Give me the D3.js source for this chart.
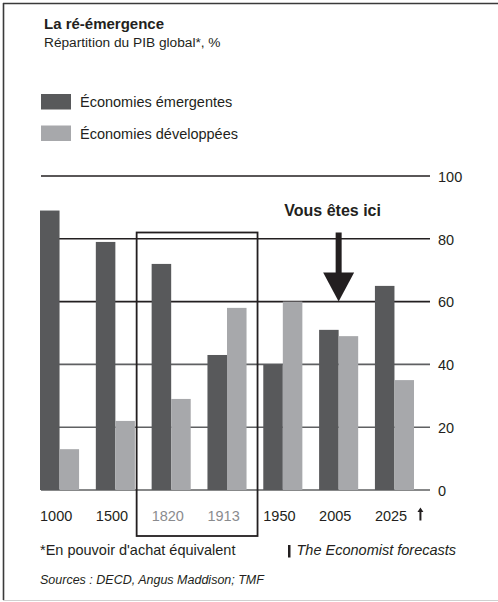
<!DOCTYPE html>
<html>
<head>
<meta charset="utf-8">
<script src="https://cdn.jsdelivr.net/npm/d3@7"></script>
<style>
  body { margin: 0; background: #fff; }
  svg text { font-family: "Liberation Sans", Arial, Helvetica, sans-serif; fill: #231f20; }
</style>
</head>
<body>
<div id="chart"></div>
<script>
const years = ["1000", "1500", "1820", "1913", "1950", "2005", "2025"];
const emergentes = [89, 79, 72, 43, 40, 51, 65];
const developpees = [13, 22, 29, 58, 60, 49, 35];
const yTicks = [0, 20, 40, 60, 80, 100];
const seriesNames = ["Économies émergentes", "Économies développées"];
const highlighted = ["1820", "1913"];

function main() {
  const width = 498;
  const height = 602;
  const darkGrey = "#58595b";
  const lightGrey = "#a7a8ab";
  const ink = "#231f20";

  const svg = d3
    .select("#chart")
    .append("svg")
    .attr("width", width)
    .attr("height", height);

  // frame
  svg.append("line").attr("x1", 3.5).attr("x2", 3.5).attr("y1", 3).attr("y2", 600)
    .attr("stroke", "#3a3a3a").attr("stroke-width", 1.6);
  svg.append("line").attr("x1", 3).attr("x2", 498).attr("y1", 3.5).attr("y2", 3.5)
    .attr("stroke", "#3a3a3a").attr("stroke-width", 1.6);
  svg.append("line").attr("x1", 3).attr("x2", 498).attr("y1", 600.5).attr("y2", 600.5)
    .attr("stroke", "#d0d0d0").attr("stroke-width", 1);

  // title
  svg.append("text").attr("x", 44).attr("y", 29)
    .style("font-weight", "bold").style("font-size", "15px")
    .text("La ré-émergence");
  svg.append("text").attr("x", 44).attr("y", 47)
    .style("font-size", "13.7px")
    .text("Répartition du PIB global*, %");

  // legend
  const color = d3.scaleOrdinal().domain(seriesNames).range([darkGrey, lightGrey]);
  const legend = svg.selectAll(".legend")
    .data(seriesNames)
    .enter()
    .append("g")
    .attr("class", "legend")
    .attr("transform", (d, i) => `translate(41, ${94 + i * 31.5})`);
  legend.append("rect")
    .attr("width", 30)
    .attr("height", 15.5)
    .attr("fill", (d) => color(d));
  legend.append("text")
    .attr("x", 39)
    .attr("y", 13)
    .style("font-size", "14.5px")
    .text((d) => d);

  // scales
  const x = d3.scaleBand().domain(years).range([40, 414]).paddingInner(0.3).paddingOuter(0);
  const xSub = d3.scaleBand().domain(["em", "dev"]).range([0, x.bandwidth()]);
  const y = d3.scaleLinear().domain([0, 100]).range([490, 176]);

  // gridlines
  svg.selectAll(".grid")
    .data(yTicks)
    .enter()
    .append("line")
    .attr("class", "grid")
    .attr("x1", 41)
    .attr("x2", 430)
    .attr("y1", (d) => y(d))
    .attr("y2", (d) => y(d))
    .attr("stroke", (d) => (d >= 60 ? ink : "#5f6062"))
    .attr("stroke-width", 1.6);

  // y axis labels on the right
  const yAxis = d3.axisRight(y).tickValues(yTicks).tickSize(0).tickPadding(0);
  const yg = svg.append("g").attr("transform", "translate(438,0)").call(yAxis);
  yg.select(".domain").remove();
  yg.selectAll("text")
    .style("font-size", "14.5px")
    .style("fill", ink)
    .attr("dy", "0.36em");

  // bars
  const rows = years.map((yr, i) => ({ year: yr, em: emergentes[i], dev: developpees[i] }));
  const groups = svg.selectAll(".grp")
    .data(rows)
    .enter()
    .append("g")
    .attr("class", "grp")
    .attr("transform", (d) => `translate(${x(d.year)},0)`);
  groups.selectAll("rect")
    .data((d) => [{ k: "em", v: d.em }, { k: "dev", v: d.dev }])
    .enter()
    .append("rect")
    .attr("x", (d) => xSub(d.k))
    .attr("width", xSub.bandwidth())
    .attr("y", (d) => y(d.v))
    .attr("height", (d) => y(0) - y(d.v))
    .attr("fill", (d) => (d.k === "em" ? darkGrey : lightGrey));

  // x axis labels (left aligned to each group)
  const xAxis = d3.axisBottom(x).tickSize(0).tickPadding(0);
  const xg = svg.append("g").attr("transform", "translate(0,510)").call(xAxis);
  xg.select(".domain").remove();
  xg.selectAll(".tick")
    .attr("transform", (d) => `translate(${x(d)},0)`);
  xg.selectAll("text")
    .attr("text-anchor", "start")
    .attr("y", 0)
    .attr("dy", "0.78em")
    .style("font-size", "14.5px")
    .style("fill", (d) => (highlighted.includes(d) ? "#8a8b8e" : ink));

  // forecast marker after 2025
  const ax = x("2025") + 45.5;
  svg.append("path")
    .attr("d", `M${ax - 1},520.5 L${ax - 1},512 L${ax - 3},512 L${ax},507.5 L${ax + 3},512 L${ax + 1},512 L${ax + 1},520.5 Z`)
    .attr("fill", ink);

  // highlight box around 1820 & 1913
  const bx0 = x("1820") - 15;
  const bx1 = x("1913") + x.bandwidth() + 11;
  svg.append("rect")
    .attr("x", bx0)
    .attr("y", 232.5)
    .attr("width", bx1 - bx0)
    .attr("height", 536 - 232.5)
    .attr("fill", "none")
    .attr("stroke", ink)
    .attr("stroke-width", 1.8);

  // "Vous êtes ici" arrow
  const cx = x("2005") + x.bandwidth() / 2;
  svg.append("text")
    .attr("x", cx - 6)
    .attr("y", 216)
    .attr("text-anchor", "middle")
    .style("font-weight", "bold")
    .style("font-size", "16px")
    .text("Vous êtes ici");
  svg.append("rect")
    .attr("x", cx - 3)
    .attr("y", 232.5)
    .attr("width", 6)
    .attr("height", 42)
    .attr("fill", ink);
  svg.append("path")
    .attr("d", `M${cx - 15.5},272.5 L${cx + 15.5},272.5 L${cx},${y(60)} Z`)
    .attr("fill", ink);

  // footnotes
  svg.append("text").attr("x", 40).attr("y", 555)
    .style("font-size", "14.5px")
    .text("*En pouvoir d'achat équivalent");
  svg.append("rect").attr("x", 288).attr("y", 545).attr("width", 2.5).attr("height", 12.5).attr("fill", ink);
  svg.append("text").attr("x", 296.5).attr("y", 555)
    .style("font-size", "14.5px")
    .style("font-style", "italic")
    .text("The Economist forecasts");
  svg.append("text").attr("x", 40).attr("y", 584)
    .style("font-size", "12.5px")
    .style("font-style", "italic")
    .text("Sources : DECD, Angus Maddison; TMF");
}

main();
</script>
</body>
</html>
